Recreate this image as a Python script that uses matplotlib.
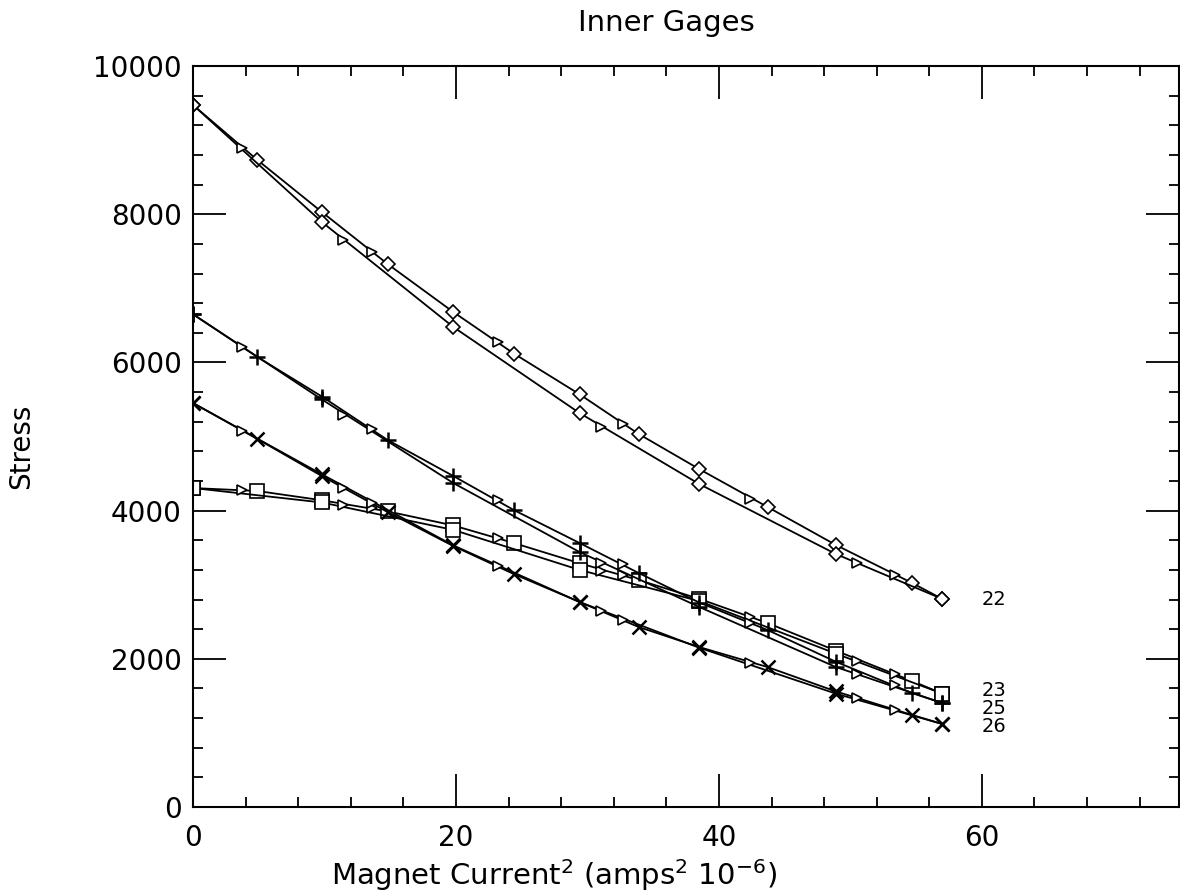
import numpy as np
import matplotlib
matplotlib.use("Agg")
import matplotlib.pyplot as plt
from matplotlib.ticker import MultipleLocator

# Datos (corriente^2 en amps^2 1e-6, esfuerzo)
x_up = [0.0, 4.9, 9.8, 14.8, 19.8, 24.4, 29.4, 33.9, 38.5, 43.7, 48.9, 54.7, 57.0]
x_dn = [57.0, 48.9, 38.5, 29.4, 19.8, 9.8, 0.0]
x_tri = [3.7, 11.4, 13.6, 23.2, 31.0, 32.7, 42.4, 50.5, 53.4]

# gage 22
g22_up = [9474, 8731, 8030, 7328, 6680, 6120, 5570, 5034, 4561, 4049, 3536, 3023, 2807]
g22_dn = [2807, 3414, 4359, 5317, 6478, 7895, 9474]
g22_tri = [8893, 7652, 7490, 6270, 5128, 5169, 4157, 3293, 3131]

# gage 23
g23_up = [4305, 4265, 4140, 3990, 3800, 3563, 3290, 3063, 2810, 2483, 2110, 1700, 1530]
g23_dn = [1530, 2070, 2780, 3200, 3740, 4110, 4305]
g23_tri = [4278, 4080, 4030, 3630, 3180, 3130, 2560, 1970, 1795]

# gage 25
g25_up = [6650, 6073, 5540, 4953, 4467, 4008, 3563, 3158, 2760, 2389, 1960, 1538, 1403]
g25_dn = [1403, 1889, 2700, 3441, 4372, 5500, 6650]
g25_tri = [6208, 5290, 5101, 4143, 3293, 3279, 2480, 1795, 1646]

# gage 26
g26_up = [5452, 4966, 4467, 3981, 3522, 3144, 2767, 2429, 2159, 1889, 1560, 1242, 1120]
g26_dn = [1120, 1530, 2150, 2767, 3530, 4490, 5452]
g26_tri = [5074, 4305, 4103, 3252, 2645, 2524, 1943, 1471, 1309]

# nombre, datos, marcador, tamano, grosor, corrimiento de la etiqueta
gages = [
    ("22", g22_up, g22_dn, g22_tri, "D", 7, 1.2, 0),
    ("23", g23_up, g23_dn, g23_tri, "s", 10, 1.2, 40),
    ("25", g25_up, g25_dn, g25_tri, "+", 11, 1.8, -80),
    ("26", g26_up, g26_dn, g26_tri, "x", 10, 1.8, -30),
]

plt.rcParams['font.family'] = ['DejaVu Sans']

fig = plt.figure(figsize=(11.8, 8.96), dpi=100)
ax = fig.add_axes([0.1636, 0.0993, 0.8356, 0.827])

for nombre, y_up, y_dn, y_tri, mk, ms, mw, dy in gages:
    ax.plot(x_up, y_up, color='black', lw=1.3, marker=mk, ms=ms,
            mfc='white', mec='black', mew=mw)
    ax.plot(x_dn, y_dn, color='black', lw=1.3, marker=mk, ms=ms,
            mfc='white', mec='black', mew=mw)
    ax.plot(x_tri, y_tri, ls='none', marker='>', ms=7,
            mfc='white', mec='black', mew=1.2)
    # etiqueta del gage al final de la curva
    ax.text(60, y_up[-1] + dy, nombre, fontsize=14, ha='left', va='center')

ax.set_xlim(0, 75)
ax.set_ylim(0, 10000)
ax.xaxis.set_major_locator(MultipleLocator(20))
ax.xaxis.set_minor_locator(MultipleLocator(4))
ax.yaxis.set_major_locator(MultipleLocator(2000))
ax.yaxis.set_minor_locator(MultipleLocator(400))
ax.tick_params(which='both', direction='in', top=True, right=True,
               labelsize=20, width=1.3, color='black')
ax.tick_params(which='major', length=24)
ax.tick_params(which='minor', length=7)
ax.tick_params(axis='x', which='major', pad=12)
ax.tick_params(axis='y', which='major', pad=8)
for s in ax.spines.values():
    s.set_linewidth(1.5)

ax.set_xlabel(r"Magnet Current$^2$ (amps$^2$ 10$^{-6}$)", fontsize=21)
ax.xaxis.set_label_coords(0.366, -0.068)
ax.set_ylabel("Stress", fontsize=20)
ax.yaxis.set_label_coords(-0.160, 0.487)

fig.text(0.565, 0.974, "Inner Gages", fontsize=21, ha='center', va='center')

fig.savefig("out.png", dpi=100)
